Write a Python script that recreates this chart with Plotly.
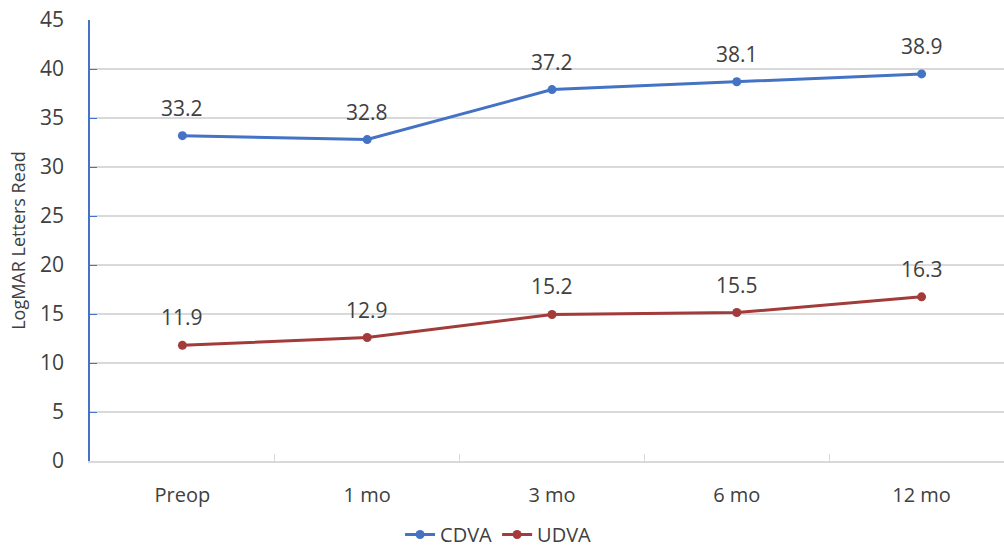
import plotly.graph_objects as go

categories = ["Preop", "1 mo", "3 mo", "6 mo", "12 mo"]
cdva_values = [33.2, 32.8, 37.9, 38.7, 39.5]
udva_values = [11.8, 12.6, 14.95, 15.15, 16.75]
cdva_labels = ["33.2", "32.8", "37.2", "38.1", "38.9"]
udva_labels = ["11.9", "12.9", "15.2", "15.5", "16.3"]
y_ticks = [0, 5, 10, 15, 20, 25, 30, 35, 40, 45]

BLUE = "#4472C4"
RED = "#A23B3A"
GRID = "#D9D9D9"
FONT = "'Open Sans', Lato, sans-serif"
TXT = "#404040"

fig = go.Figure()
fig.add_trace(go.Scatter(x=categories, y=cdva_values, name="CDVA", mode="lines+markers",
                         line=dict(color=BLUE, width=3), marker=dict(color=BLUE, size=9)))
fig.add_trace(go.Scatter(x=categories, y=udva_values, name="UDVA", mode="lines+markers",
                         line=dict(color=RED, width=3), marker=dict(color=RED, size=9)))

annotations = []
for cat, v, t in zip(categories, cdva_values, cdva_labels):
    annotations.append(dict(x=cat, y=v, text=t, showarrow=False, yshift=28,
                            font=dict(family=FONT, size=21, color=TXT)))
for cat, v, t in zip(categories, udva_values, udva_labels):
    annotations.append(dict(x=cat, y=v, text=t, showarrow=False, yshift=28,
                            font=dict(family=FONT, size=21, color=TXT)))

fig.update_layout(
    width=1004, height=554,
    margin=dict(l=90, r=0, t=19.5, b=93),
    paper_bgcolor="white", plot_bgcolor="white",
    font=dict(family=FONT, size=21, color=TXT),
    annotations=annotations,
    showlegend=True,
    legend=dict(orientation="h", x=0.447, xanchor="center", yref="container", y=-0.012,
                yanchor="bottom",
                font=dict(family=FONT, size=20, color=TXT), itemwidth=30,
                traceorder="normal", borderwidth=0, tracegroupgap=0),
    xaxis=dict(type="category", range=[-0.5, 4.446], showgrid=False, automargin=False,
               showline=True, linecolor=GRID, linewidth=1.5,
               ticks="inside", tickson="boundaries", ticklen=7, tickcolor=GRID,
               tickfont=dict(family=FONT, size=20, color=TXT), ticklabelstandoff=15),
    yaxis=dict(range=[0, 45], tickvals=y_ticks, showgrid=True, gridcolor=GRID, gridwidth=1.5,
               zeroline=False, showline=True, linecolor=BLUE, linewidth=1.5, automargin=False,
               ticks="inside", ticklen=7, tickcolor=BLUE,
               tickfont=dict(family=FONT, size=21, color=TXT), ticklabelstandoff=20,
               title=dict(text="LogMAR Letters Read", font=dict(family=FONT, size=18, color=TXT),
                          standoff=10)),
)

fig.write_html("out.html", config={"displayModeBar": False},
               post_script="document.body.style.margin='0px';")
